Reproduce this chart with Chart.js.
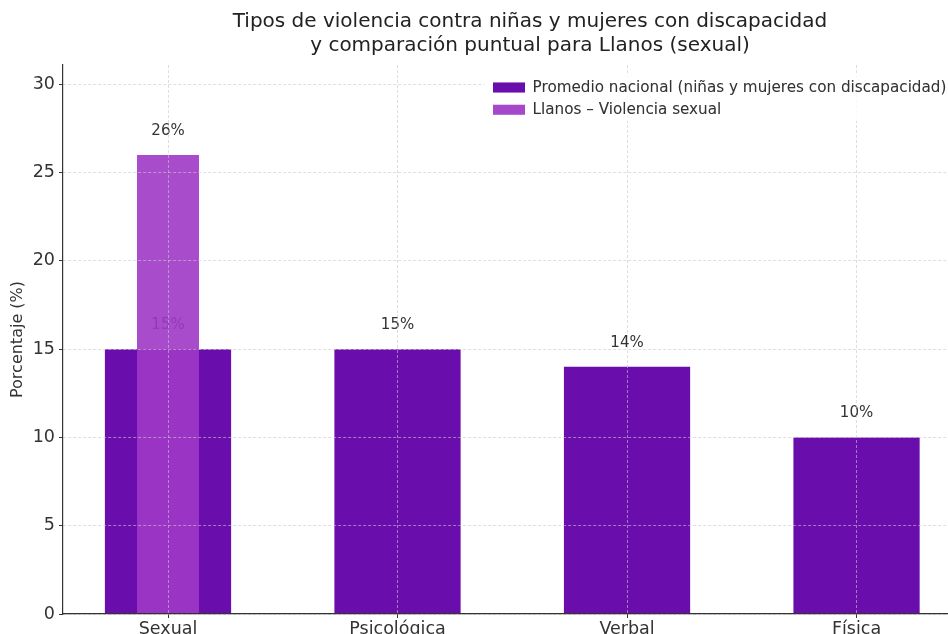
<!DOCTYPE html>
<html>
<head>
<meta charset="utf-8">
<script src="https://cdn.jsdelivr.net/npm/chart.js@4.4.1/dist/chart.umd.min.js"></script>
<style>
  html, body { margin: 0; padding: 0; background: #fff; overflow: hidden; }
  #wrap { width: 1060px; height: 634px; }
</style>
</head>
<body>
<div id="wrap"><canvas id="myChart" width="1060" height="634"></canvas></div>
<script>
// categories and values
var categories = ['Sexual', 'Psicológica', 'Verbal', 'Física'];
var nationalValues = [15, 15, 14, 10];
var llanosValues = [26];          // only for "Sexual"
var llanosIndex = [0];

var nationalColor = '#6a0dad';
var llanosColor = 'rgba(158, 57, 199, 0.9)';
var textColor = '#333';
var gridColor = 'rgba(200,200,200,0.6)';
var font = 'DejaVu Sans';

function points(idx, vals) {
    return vals.map(function (v, i) { return { x: idx[i], y: v }; });
}

// "15%" style labels above each bar, drawn right after its own dataset
var barLabels = {
    id: 'barLabels',
    afterDatasetDraw: function (chart, args) {
        var ctx = chart.ctx;
        var ds = chart.data.datasets[args.index];
        var yScale = chart.scales.y;
        ctx.save();
        ctx.font = '15px "' + font + '"';
        ctx.fillStyle = textColor;
        ctx.textAlign = 'center';
        ctx.textBaseline = 'middle';
        args.meta.data.forEach(function (bar, i) {
            var v = ds.data[i].y;
            ctx.fillText(v + '%', bar.x, yScale.getPixelForValue(v) - 24);
        });
        ctx.restore();
    }
};

// legend sits in the upper right of the plot, on a see-through white frame above the grid
var legendSpot = {
    id: 'legendSpot',
    afterLayout: function (chart) {
        var lg = chart.legend;
        lg.left = chart.chartArea.right - 511;
        lg.right = lg.left + lg.width;
        lg.top = chart.chartArea.top + 8;
    },
    afterDraw: function (chart) {
        var lg = chart.legend, ca = chart.chartArea, c = chart.ctx;
        c.save();
        c.fillStyle = 'rgba(255,255,255,0.8)';
        c.fillRect(lg.left - 2, ca.top + 9, ca.right - lg.left + 2, 47);
        c.restore();
        lg.draw();
    }
};

var ctx = document.getElementById('myChart').getContext('2d');
new Chart(ctx, {
    type: 'bar',
    data: {
        datasets: [
            {
                label: 'Promedio nacional (niñas y mujeres con discapacidad)',
                data: points([0, 1, 2, 3], nationalValues),
                backgroundColor: nationalColor,
                borderWidth: 0,
                grouped: false,
                order: 1,
                barPercentage: 0.55,
                categoryPercentage: 1
            },
            {
                label: 'Llanos – Violencia sexual',
                data: points(llanosIndex, llanosValues),
                backgroundColor: llanosColor,
                borderWidth: 0,
                grouped: false,
                order: 0,
                barPercentage: 0.27,
                categoryPercentage: 1
            }
        ]
    },
    options: {
        responsive: false,
        animation: false,
        layout: { padding: { left: 0, right: 63, top: 0, bottom: 0 } },
        plugins: {
            tooltip: { enabled: false },
            title: {
                display: true,
                fullSize: false,
                text: ['Tipos de violencia contra niñas y mujeres con discapacidad',
                       'y comparación puntual para Llanos (sexual)'],
                color: '#222',
                font: { family: font, size: 20, weight: 'normal', lineHeight: 1.2 },
                padding: { top: 10, bottom: 7 }
            },
            legend: {
                position: 'chartArea',
                align: 'start',
                labels: {
                    boxWidth: 32,
                    boxHeight: 10,
                    padding: 7,
                    color: textColor,
                    font: { family: font, size: 15.2 },
                    sort: function (a, b) { return a.datasetIndex - b.datasetIndex; }
                }
            }
        },
        scales: {
            x: {
                type: 'linear',
                offset: false,
                min: -0.4575,
                max: 3.612,
                afterFit: function (s) { s.height = 20; },
                ticks: {
                    stepSize: 1,
                    includeBounds: false,
                    autoSkip: false,
                    maxRotation: 0,
                    padding: 1,
                    color: textColor,
                    font: { family: font, size: 17.5 },
                    callback: function (v) { return categories[v] !== undefined ? categories[v] : ''; }
                },
                grid: {
                    offset: false,
                    z: 1,
                    color: gridColor,
                    tickColor: textColor,
                    tickLength: 4,
                    lineWidth: 1
                },
                border: { color: textColor, width: 1.2, dash: [3, 2], z: 2 }
            },
            y: {
                min: 0,
                max: 31.1,
                afterFit: function (s) { s.width = 63; },
                ticks: {
                    stepSize: 5,
                    includeBounds: false,
                    padding: 4,
                    color: textColor,
                    font: { family: font, size: 17.5 }
                },
                grid: {
                    z: 1,
                    color: gridColor,
                    tickColor: textColor,
                    tickLength: 4,
                    lineWidth: 1
                },
                border: { color: textColor, width: 1.2, dash: [3, 2], z: 2 },
                title: {
                    display: true,
                    text: 'Porcentaje (%)',
                    color: textColor,
                    font: { family: font, size: 16 },
                    padding: { top: 8, bottom: 0 }
                }
            }
        }
    },
    plugins: [barLabels, legendSpot]
});
</script>
</body>
</html>
